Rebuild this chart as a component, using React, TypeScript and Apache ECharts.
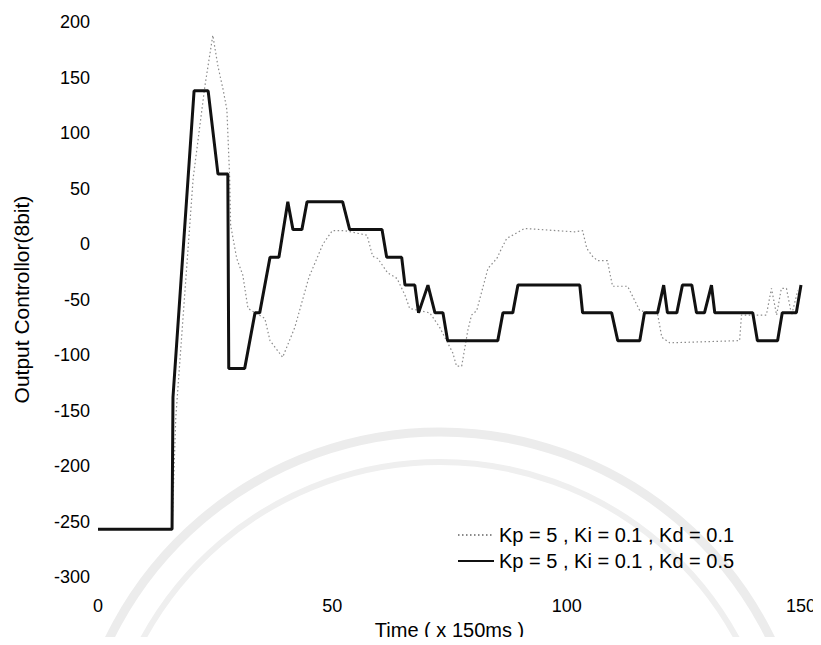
import React, { useEffect, useRef } from "react";
import * as echarts from "echarts";

const xTicks = [0, 50, 100, 150];
const yTicks = [-300, -250, -200, -150, -100, -50, 0, 50, 100, 150, 200];

const seriesNames = ["Kp = 5 , Ki = 0.1 , Kd = 0.1", "Kp = 5 , Ki = 0.1 , Kd = 0.5"];

// Kd = 0.1 (grey dotted)
const grayT = [0, 15.8, 16.6, 20.3, 22.8, 24.5, 25.6, 26.7, 27.5, 28.1, 28.3, 29.6, 30.9, 32, 35.6, 36.7, 39.4, 42, 45, 48, 50, 52.7, 57.4, 58.6, 59.7, 61.8, 63.8, 65.5, 66.5, 70.8, 72.9, 75.7, 76.5, 77.6, 78.9, 79.7, 80.8, 83.2, 85.1, 86.1, 87.2, 91, 98.1, 101.7, 103.4, 104.3, 105.5, 106.6, 108.7, 109.2, 109.8, 113, 115.6, 119.4, 120.3, 122, 136.9, 137.3, 142.6, 143.7, 144.8, 145.8, 146.9, 148, 149.3];
const grayV = [-257, -257, -156, 59, 142, 188, 160, 139, 121, 59, 17, -13, -28, -58, -67, -87, -102, -75, -30, 0, 12, 12, 8, -11, -13, -26, -31, -46, -58, -62, -75, -98, -110, -110, -78, -64, -60, -22, -13, -4, 5, 14, 12, 11, 12, -4, -11, -15, -15, -26, -38, -38, -60, -63, -84, -89, -87, -64, -64, -40, -64, -40, -40, -64, -42];

// Kd = 0.5 (black solid)
const blackT = [0, 15.8, 16, 20.5, 23.5, 25.6, 27.7, 27.9, 31.3, 33.5, 34.5, 36.7, 38.6, 40.5, 41.6, 43.5, 44.6, 52.2, 53.7, 60.6, 61.6, 64.8, 65.5, 67.6, 68.4, 70.4, 71.9, 73.6, 74.6, 85.3, 86.4, 88.5, 89.6, 102.8, 103.4, 109.6, 110.9, 115.6, 116.6, 119.4, 120.7, 121.5, 123.5, 124.7, 126.7, 127.7, 129.4, 130.9, 131.6, 139.7, 140.7, 145, 146, 149, 150];
const blackV = [-257, -257, -138, 138, 138, 63, 63, -112, -112, -62, -62, -12, -12, 38, 13, 13, 38, 38, 13, 13, -12, -12, -37, -37, -62, -37, -62, -62, -87, -87, -62, -62, -37, -37, -62, -62, -87, -87, -62, -62, -37, -62, -62, -37, -37, -62, -62, -37, -62, -62, -87, -87, -62, -62, -37];

const FONT = "'Liberation Sans', Arial, sans-serif";

export default function App() {
  const ref = useRef<HTMLDivElement>(null);
  useEffect(() => {
    if (!ref.current) return;
    const chart = echarts.init(ref.current, undefined, { renderer: "svg" });
    const grayData = grayT.map((t, i) => [t, grayV[i]]);
    const blackData = blackT.map((t, i) => [t, blackV[i]]);
    chart.setOption({
      animation: false,
      backgroundColor: "#ffffff",
      textStyle: { fontFamily: FONT },
      graphic: [
        {
          type: "arc",
          silent: true,
          z: -10,
          shape: { cx: 440, cy: 800, r: 368, startAngle: Math.PI * 1.05, endAngle: Math.PI * 1.95 },
          style: { stroke: "#ececec", lineWidth: 9, fill: "none" },
        },
        {
          type: "arc",
          silent: true,
          z: -10,
          shape: { cx: 440, cy: 800, r: 338, startAngle: Math.PI * 1.05, endAngle: Math.PI * 1.95 },
          style: { stroke: "#efefef", lineWidth: 6, fill: "none" },
        },
      ],
      grid: { left: 98, right: 20, top: 22, bottom: 63, containLabel: false },
      legend: {
        orient: "vertical",
        left: 452,
        top: 520,
        itemWidth: 36,
        itemHeight: 14,
        itemGap: 6,
        itemTextGap: 14,
        itemStyle: { opacity: 0 },
        textStyle: { fontSize: 20, color: "#000", fontFamily: FONT },
        data: seriesNames,
      },
      xAxis: {
        type: "value",
        min: xTicks[0],
        max: xTicks[xTicks.length - 1],
        interval: 50,
        name: "Time ( x 150ms )",
        nameLocation: "middle",
        nameGap: 36,
        nameTextStyle: { fontSize: 20, color: "#000", fontFamily: FONT },
        axisLine: { show: false },
        axisTick: { show: false },
        splitLine: { show: false },
        axisLabel: { fontSize: 18, color: "#000", margin: 20, fontFamily: FONT },
      },
      yAxis: {
        type: "value",
        min: yTicks[0],
        max: yTicks[yTicks.length - 1],
        interval: 50,
        name: "Output Controllor(8bit)",
        nameLocation: "middle",
        nameGap: 66,
        nameTextStyle: { fontSize: 21, color: "#000", fontFamily: FONT },
        axisLine: { show: false },
        axisTick: { show: false },
        splitLine: { show: false },
        axisLabel: { fontSize: 18, color: "#000", margin: 8, fontFamily: FONT },
      },
      series: [
        {
          name: seriesNames[0],
          type: "line",
          data: grayData,
          symbol: "none",
          z: 2,
          lineStyle: { color: "#8a8a8a", width: 1.2, type: [1.5, 2.5] },
          itemStyle: { color: "#8a8a8a" },
        },
        {
          name: seriesNames[1],
          type: "line",
          data: blackData,
          symbol: "none",
          z: 3,
          lineStyle: { color: "#111", width: 3 },
          itemStyle: { color: "#111" },
        },
      ],
    });
    return () => chart.dispose();
  }, []);
  return <div ref={ref} style={{ width: 821, height: 645, margin: -8 }} />;
}
